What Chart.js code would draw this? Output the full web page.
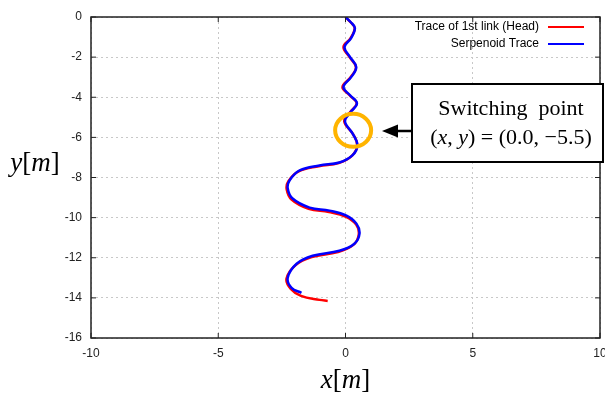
<!DOCTYPE html>
<html>
<head>
<meta charset="utf-8">
<script src="https://cdn.jsdelivr.net/npm/chart.js@4"></script>
<style>
  html, body { margin: 0; padding: 0; background: #fff; }
  #wrap { width: 605px; height: 396px; }
</style>
</head>
<body>
<div id="wrap"><canvas id="traceChart" width="605" height="396"></canvas></div>
<script>
// Serpenoid trace (meters)
const serpX = [0.00, 0.20, 0.37, 0.22, -0.04, 0.18, 0.42, 0.22, -0.08, 0.18, 0.45, 0.20, -0.02, 0.30, 0.47, 0.27, -0.24, -1.02, -1.80, -2.20, -2.27, -2.08, -1.41, -0.63, 0.04, 0.43, 0.55, 0.35, -0.24, -1.29, -1.92, -2.27, -2.12, -1.73];
const serpY = [0.00, -0.25, -0.55, -1.05, -1.50, -2.00, -2.50, -3.00, -3.50, -3.90, -4.30, -4.75, -5.20, -5.85, -6.40, -6.90, -7.25, -7.40, -7.65, -8.15, -8.55, -9.05, -9.50, -9.65, -9.90, -10.30, -10.80, -11.30, -11.65, -11.90, -12.30, -13.00, -13.50, -13.75];
// Head link trace
const headX = [0.00, 0.19, 0.36, 0.20, -0.08, 0.16, 0.41, 0.20, -0.12, 0.16, 0.44, 0.18, -0.05, 0.30, 0.46, 0.25, -0.27, -1.05, -1.84, -2.25, -2.31, -2.12, -1.45, -0.65, 0.02, 0.42, 0.52, 0.31, -0.30, -1.33, -1.97, -2.32, -2.15, -1.75, -1.02, -0.70];
const headY = [0.00, -0.25, -0.55, -1.05, -1.50, -2.00, -2.50, -3.00, -3.50, -3.90, -4.30, -4.75, -5.20, -5.85, -6.40, -6.92, -7.28, -7.44, -7.70, -8.20, -8.60, -9.10, -9.56, -9.72, -9.96, -10.35, -10.85, -11.36, -11.72, -11.97, -12.38, -13.05, -13.55, -13.90, -14.10, -14.15];

const seriesLabels = ['Trace of 1st link (Head)', 'Serpenoid Trace'];
const seriesColors = ['#ff0000', '#0000ff'];
const switchPoint = { x: 0.0, y: -5.5 };

const toPoints = (xs, ys) => xs.map((x, i) => ({ x: x, y: ys[i] }));

// draws frame, inner ticks, legend, axis titles and the callout
const decorations = {
  id: 'decorations',
  afterDraw(chart) {
    const c = chart.ctx;
    const a = chart.chartArea;
    const sx = chart.scales.x, sy = chart.scales.y;
    c.save();

    // frame
    c.strokeStyle = '#222';
    c.lineWidth = 1.5;
    c.strokeRect(a.left, a.top, a.right - a.left, a.bottom - a.top);

    // inner ticks
    c.lineWidth = 1;
    sx.ticks.forEach(t => {
      const px = sx.getPixelForValue(t.value);
      c.beginPath();
      c.moveTo(px, a.bottom); c.lineTo(px, a.bottom - 5);
      c.moveTo(px, a.top); c.lineTo(px, a.top + 5);
      c.stroke();
    });
    sy.ticks.forEach(t => {
      const py = sy.getPixelForValue(t.value);
      c.beginPath();
      c.moveTo(a.left, py); c.lineTo(a.left + 5, py);
      c.moveTo(a.right, py); c.lineTo(a.right - 5, py);
      c.stroke();
    });

    // legend (text left of the line sample)
    c.font = '12px "Liberation Sans", Arial, sans-serif';
    c.textAlign = 'right';
    c.textBaseline = 'middle';
    seriesLabels.forEach((lab, i) => {
      const y = a.top + 10 + i * 17;
      c.fillStyle = '#000';
      c.fillText(lab, a.right - 61, y);
      c.strokeStyle = seriesColors[i];
      c.lineWidth = 2;
      c.beginPath();
      c.moveTo(a.right - 52, y); c.lineTo(a.right - 16, y);
      c.stroke();
    });

    // axis titles, mixed italic / upright
    const mixed = (parts, x, y, size) => {
      let w = 0;
      parts.forEach(p => {
        c.font = (p[1] ? 'italic ' : '') + size + 'px "Liberation Serif", "Times New Roman", serif';
        w += c.measureText(p[0]).width;
      });
      let cx = x - w / 2;
      c.textAlign = 'left';
      parts.forEach(p => {
        c.font = (p[1] ? 'italic ' : '') + size + 'px "Liberation Serif", "Times New Roman", serif';
        c.fillText(p[0], cx, y);
        cx += c.measureText(p[0]).width;
      });
    };
    c.fillStyle = '#000';
    c.textBaseline = 'alphabetic';
    mixed([['x', true], ['[', false], ['m', true], [']', false]], sx.getPixelForValue(0), 388, 27);
    mixed([['y', true], ['[', false], ['m', true], [']', false]], 35, 171, 27);

    // orange circle near the switching point
    const cxp = sx.getPixelForValue(switchPoint.x + 0.3);
    const cyp = sy.getPixelForValue(switchPoint.y - 0.15);
    c.strokeStyle = '#ffb400';
    c.lineWidth = 4;
    c.beginPath();
    c.ellipse(cxp, cyp, 18, 16.5, 0, 0, Math.PI * 2);
    c.stroke();

    // callout box
    const bx = 412, by = 84, bw = 191, bh = 78;
    c.fillStyle = '#fff';
    c.fillRect(bx, by, bw, bh);
    c.strokeStyle = '#000';
    c.lineWidth = 2;
    c.strokeRect(bx, by, bw, bh);

    // arrow
    const ay = by + bh / 2 + 8;
    c.lineWidth = 2.5;
    c.beginPath();
    c.moveTo(bx, ay); c.lineTo(395, ay);
    c.stroke();
    c.fillStyle = '#000';
    c.beginPath();
    c.moveTo(382, ay); c.lineTo(398, ay - 6.5); c.lineTo(398, ay + 6.5);
    c.closePath();
    c.fill();

    c.fillStyle = '#000';
    mixed([['Switching  point', false]], 511, 115, 22);
    mixed([['(', false], ['x', true], [', ', false], ['y', true], [')', false], [' = (0.0, \u22125.5)', false]], 511, 144, 22);

    c.restore();
  }
};

new Chart(document.getElementById('traceChart'), {
  type: 'scatter',
  data: {
    datasets: [
      {
        label: seriesLabels[0],
        data: toPoints(headX, headY),
        showLine: true,
        borderColor: seriesColors[0],
        borderWidth: 2.5,
        pointRadius: 0,
        tension: 0.4,
        order: 1
      },
      {
        label: seriesLabels[1],
        data: toPoints(serpX, serpY),
        showLine: true,
        borderColor: seriesColors[1],
        borderWidth: 2.5,
        pointRadius: 0,
        tension: 0.4,
        order: 0
      }
    ]
  },
  options: {
    responsive: false,
    animation: false,
    layout: { padding: { left: 0, right: 5, top: 17, bottom: 0 } },
    plugins: { legend: { display: false }, tooltip: { enabled: false } },
    scales: {
      x: {
        min: -10, max: 10,
        ticks: { stepSize: 5, color: '#222', padding: 8, maxRotation: 0,
                 font: { family: '"Liberation Sans", Arial, sans-serif', size: 12 } },
        grid: { color: '#c8c8c8', tickLength: 0, drawTicks: false },
        border: { display: false, dash: [2, 3] },
        afterFit: s => { s.height = 58; s.paddingLeft = 0; s.paddingRight = 0; }
      },
      y: {
        min: -16, max: 0,
        ticks: { stepSize: 2, color: '#222', padding: 9,
                 font: { family: '"Liberation Sans", Arial, sans-serif', size: 12 } },
        grid: { color: '#c8c8c8', tickLength: 0, drawTicks: false },
        border: { display: false, dash: [2, 3] },
        afterFit: s => { s.width = 91; s.paddingTop = 0; s.paddingBottom = 0; }
      }
    }
  },
  plugins: [decorations]
});
</script>
</body>
</html>
